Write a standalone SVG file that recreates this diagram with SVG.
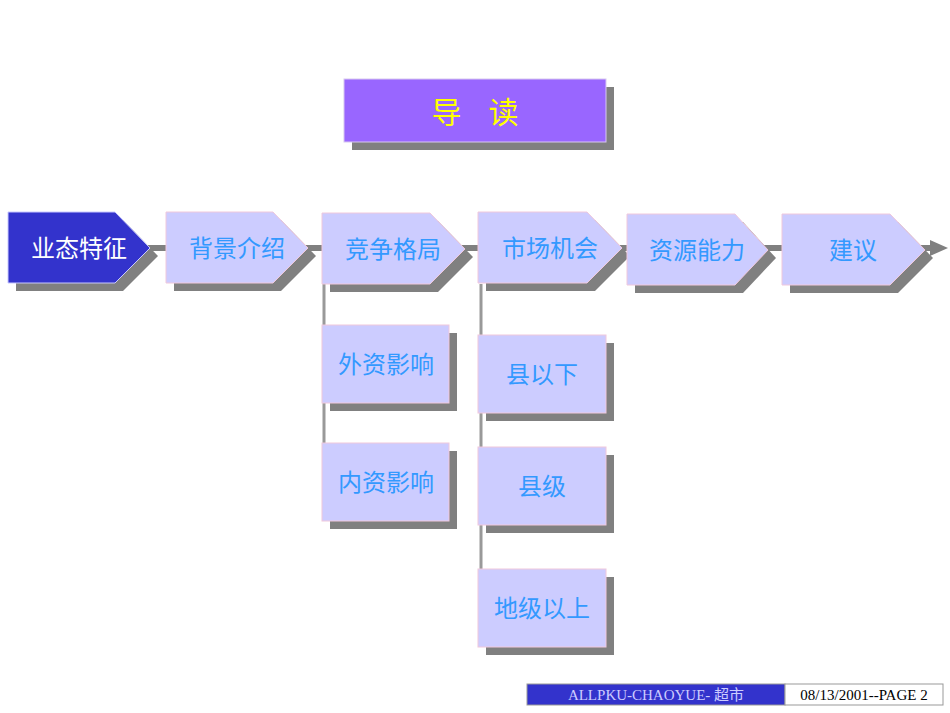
<svg xmlns="http://www.w3.org/2000/svg" width="950" height="713" viewBox="0 0 950 713">
<style>
.sh{fill:#808080}
.nd{fill:#ccccff;stroke:#f0c8dc;stroke-width:1}
.t{font-family:"Noto Sans CJK SC","Liberation Sans",sans-serif;font-size:24px;fill:#3399ff;text-anchor:middle}
.ln{stroke:#999;stroke-width:3;fill:none}
</style>
<rect width="950" height="713" fill="#fff"/>
<g id="connectors">
<line x1="140" y1="248" x2="932" y2="248" stroke="#808080" stroke-width="6"/>
<polygon points="930,240 948,248 930,256" fill="#808080"/>
<line class="ln" x1="324" y1="284" x2="324" y2="445"/>
<line class="ln" x1="481" y1="284" x2="481" y2="572"/>
</g>
<g id="title">
<rect x="352" y="87" width="262" height="63" class="sh"/>
<rect x="344" y="79" width="262" height="63" fill="#9966ff" stroke="#d8c8f0"/>
<text x="475" y="123" style="font-family:'Noto Sans CJK SC',sans-serif;font-size:30px;fill:#ffff00;text-anchor:middle" xml:space="preserve">导    读</text>
</g>
<g id="n1">
<polygon class="sh" points="16,220 123,220 158,256 123,291 16,291"/>
<polygon points="8,212 115,212 150,248 115,283 8,283" fill="#3333cc" stroke="#c8c8ff"/>
<text x="79" y="257" class="t" style="fill:#fff">业态特征</text>
</g>
<g id="n2">
<polygon class="sh" points="174,220 281,220 316,256 281,291 174,291"/>
<polygon class="nd" points="166,212 273,212 308,248 273,283 166,283"/>
<text x="237" y="257" class="t">背景介绍</text>
</g>
<g id="n3">
<polygon class="sh" points="330,221 438,221 473,257 438,292 330,292"/>
<polygon class="nd" points="322,213 430,213 465,249 430,284 322,284"/>
<text x="393" y="258" class="t">竞争格局</text>
</g>
<g id="n4">
<polygon class="sh" points="486,220 595,220 630,256 595,291 486,291"/>
<polygon class="nd" points="478,212 587,212 622,248 587,283 478,283"/>
<text x="550" y="257" class="t">市场机会</text>
</g>
<g id="n5">
<polygon class="sh" points="635,222 743,222 776,258 743,293 635,293"/>
<polygon class="nd" points="627,214 735,214 768,250 735,285 627,285"/>
<text x="697" y="259" class="t">资源能力</text>
</g>
<g id="n6">
<polygon class="sh" points="790,222 898,222 933,258 898,293 790,293"/>
<polygon class="nd" points="782,214 890,214 925,250 890,285 782,285"/>
<text x="853" y="259" class="t">建议</text>
</g>
<g id="s1"><rect x="330" y="333" width="127" height="78" class="sh"/><rect x="322" y="325" width="127" height="78" class="nd"/><text x="386" y="373" class="t">外资影响</text></g>
<g id="s2"><rect x="330" y="451" width="127" height="78" class="sh"/><rect x="322" y="443" width="127" height="78" class="nd"/><text x="386" y="491" class="t">内资影响</text></g>
<g id="s3"><rect x="486" y="343" width="128" height="78" class="sh"/><rect x="478" y="335" width="128" height="78" class="nd"/><text x="542" y="383" class="t">县以下</text></g>
<g id="s4"><rect x="486" y="455" width="128" height="78" class="sh"/><rect x="478" y="447" width="128" height="78" class="nd"/><text x="542" y="495" class="t">县级</text></g>
<g id="s5"><rect x="486" y="577" width="128" height="78" class="sh"/><rect x="478" y="569" width="128" height="78" class="nd"/><text x="542" y="617" class="t">地级以上</text></g>
<g id="footer">
<rect x="527" y="684" width="258" height="21" fill="#3333cc" stroke="#999"/>
<rect x="785" y="684" width="158" height="21" fill="#fff" stroke="#999"/>
<text x="656" y="700" style="font-family:'Liberation Serif','Noto Sans CJK SC',serif;font-size:15px;fill:#ccccff;text-anchor:middle">ALLPKU-CHAOYUE- 超市</text>
<text x="864" y="700" style="font-family:'Liberation Serif',serif;font-size:15px;fill:#000;text-anchor:middle">08/13/2001--PAGE 2</text>
</g>
</svg>
